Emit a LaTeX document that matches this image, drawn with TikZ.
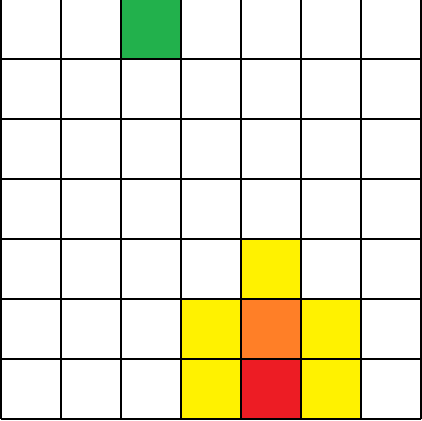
\documentclass[tikz,border=0pt]{standalone}
\usepackage{xcolor}
\usepackage{tikz}
\usetikzlibrary{positioning}
\definecolor{cellgreen}{RGB}{34,177,76}
\definecolor{cellyellow}{RGB}{255,242,0}
\definecolor{cellorange}{RGB}{255,127,39}
\definecolor{cellred}{RGB}{237,28,36}
\tikzset{
  cell/.style={rectangle, minimum width=1cm, minimum height=1cm, inner sep=0pt,
    draw=none, anchor=south west},
  gridline/.style={line width=0.042cm, color=black},
}
\begin{document}
\begin{tikzpicture}
  \useasboundingbox (-0.0167,-0.0167) rectangle (7.0167,6.9833);
  % coloured cells (column, row counted from the top)
  \foreach \col/\row/\clr in {2/0/cellgreen, 4/4/cellyellow, 3/5/cellyellow,
      4/5/cellorange, 5/5/cellyellow, 3/6/cellyellow, 4/6/cellred, 5/6/cellyellow}
    \node[cell, fill=\clr] (c-\col-\row) at (\col, 6-\row) {};
  % the board
  \draw[gridline] (0,0) grid (7,7);
\end{tikzpicture}
\end{document}
